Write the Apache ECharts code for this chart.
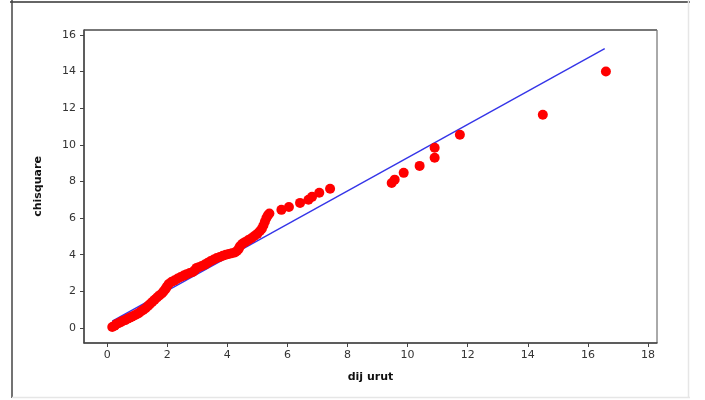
<!DOCTYPE html>
<html>
<head>
    <meta charset="utf-8">
    <title>chisquare vs dij urut</title>
    <script src="https://cdn.jsdelivr.net/npm/echarts@6/dist/echarts.min.js"></script>
    <style>
        html, body { margin: 0; padding: 0; background: #fff; }
    </style>
</head>
<body>
    <div id="main" style="width: 705px;height:400px;"></div>
    <script type="text/javascript">

    // sorted distances (x) and chi-square quantiles (y)
    var dijUrut = [
        0.17, 0.25, 0.30, 0.38, 0.45, 0.52, 0.60, 0.68, 0.75, 0.82,
        0.90, 0.97, 1.05, 1.12, 1.20, 1.28, 1.36, 1.42, 1.50, 1.58,
        1.66, 1.74, 1.82, 1.88, 1.94, 1.99, 2.05, 2.15, 2.25, 2.35,
        2.45, 2.55, 2.65, 2.75, 2.85, 2.92, 2.98, 3.05, 3.15, 3.25,
        3.35, 3.45, 3.55, 3.65, 3.75, 3.85, 3.95, 4.05, 4.15, 4.25,
        4.32, 4.38, 4.42, 4.50, 4.60, 4.70, 4.80, 4.90, 5.00, 5.08,
        5.15, 5.20, 5.25, 5.30, 5.35, 5.40, 5.80, 6.05, 6.42, 6.70,
        6.82, 7.06, 7.42, 9.47, 9.57, 9.87, 10.40, 10.90, 10.90, 11.74,
        14.50, 16.60
    ];
    var chisquare = [
        0.05, 0.12, 0.20, 0.26, 0.32, 0.38, 0.43, 0.50, 0.56, 0.62,
        0.68, 0.74, 0.81, 0.90, 0.98, 1.08, 1.20, 1.30, 1.42, 1.54,
        1.66, 1.78, 1.88, 2.00, 2.12, 2.26, 2.40, 2.52, 2.60, 2.70,
        2.78, 2.86, 2.94, 3.00, 3.06, 3.16, 3.28, 3.32, 3.38, 3.46,
        3.56, 3.66, 3.74, 3.82, 3.88, 3.94, 4.00, 4.04, 4.08, 4.12,
        4.20, 4.32, 4.46, 4.60, 4.70, 4.80, 4.90, 5.02, 5.14, 5.28,
        5.42, 5.60, 5.80, 6.00, 6.15, 6.25, 6.45, 6.61, 6.83, 7.00,
        7.16, 7.38, 7.60, 7.92, 8.10, 8.47, 8.85, 9.29, 9.84, 10.55,
        11.64, 14.00
    ];

    // fitted reference line (two ends)
    var fitX = [0.17, 16.56];
    var fitY = [0.38, 15.25];

    var xTicks = [0, 2, 4, 6, 8, 10, 12, 14, 16, 18];
    var yTicks = [0, 2, 4, 6, 8, 10, 12, 14, 16];

    var points = [];
    for (var i = 0; i < dijUrut.length; i++) {
        points.push([dijUrut[i], chisquare[i]]);
    }
    var fitLine = [];
    for (var j = 0; j < fitX.length; j++) {
        fitLine.push([fitX[j], fitY[j]]);
    }

    var myChart = echarts.init(document.getElementById('main'));

    var labelFont = {
        fontFamily: 'DejaVu Sans, Verdana, sans-serif',
        fontSize: 11,
        color: '#333'
    };

    var option = {
        animation: false,
        backgroundColor: '#fff',
        grid: {
            left: 84, right: 48, top: 30, bottom: 57,
            show: true,
            borderColor: '#555',
            borderWidth: 1,
            backgroundColor: '#fff'
        },
        graphic: [
            { type: 'line', shape: {x1: 10, y1: 2, x2: 690, y2: 2}, style: {stroke: '#666', lineWidth: 2} },
            { type: 'line', shape: {x1: 12, y1: 0, x2: 12, y2: 398}, style: {stroke: '#444', lineWidth: 1.5} },
            { type: 'line', shape: {x1: 688.5, y1: 0, x2: 688.5, y2: 398}, style: {stroke: '#e6e6e6', lineWidth: 1.5} },
            { type: 'line', shape: {x1: 12, y1: 397.5, x2: 690, y2: 397.5}, style: {stroke: '#e6e6e6', lineWidth: 1.5} },
            { type: 'line', shape: {x1: 84, y1: 30, x2: 657, y2: 30}, style: {stroke: '#777', lineWidth: 2} }
        ],
        xAxis: {
            type: 'value',
            min: -0.77,
            max: 18.3,
            name: 'dij urut',
            nameLocation: 'middle',
            nameGap: 29,
            nameTextStyle: {
                fontFamily: 'DejaVu Sans, Verdana, sans-serif',
                fontSize: 11,
                fontWeight: 'bold',
                color: '#111'
            },
            axisLine: { show: true, onZero: false, lineStyle: {color: '#444', width: 1.5} },
            axisTick: { show: true, length: 4, customValues: xTicks, lineStyle: {color: '#444'} },
            axisLabel: Object.assign({ margin: 7, customValues: xTicks }, labelFont),
            splitLine: { show: false }
        },
        yAxis: {
            type: 'value',
            min: -0.82,
            max: 16.27,
            name: 'chisquare',
            nameLocation: 'middle',
            nameGap: 40,
            nameRotate: 90,
            nameTextStyle: {
                fontFamily: 'DejaVu Sans, Verdana, sans-serif',
                fontSize: 11,
                fontWeight: 'bold',
                color: '#111'
            },
            axisLine: { show: true, onZero: false, lineStyle: {color: '#444', width: 1.5} },
            axisTick: { show: true, length: 4, customValues: yTicks, lineStyle: {color: '#444'} },
            axisLabel: Object.assign({ margin: 8, customValues: yTicks }, labelFont),
            splitLine: { show: false }
        },
        series: [
            {
                name: 'fit',
                type: 'line',
                data: fitLine,
                symbol: 'none',
                lineStyle: { color: '#3535e8', width: 1.4 },
                z: 2
            },
            {
                name: 'chisquare',
                type: 'scatter',
                data: points,
                symbolSize: 10,
                itemStyle: { color: '#ff0000', opacity: 1 },
                z: 3
            }
        ]
    };

    myChart.setOption(option);
    </script>
</body>
</html>
